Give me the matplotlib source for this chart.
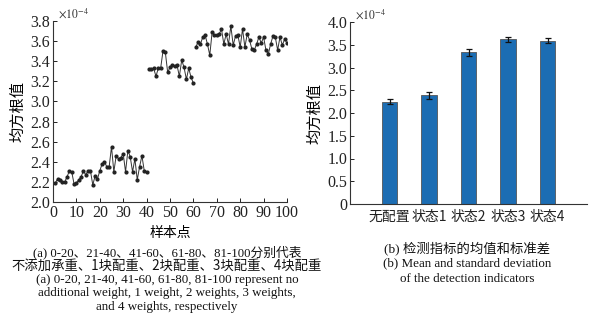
import matplotlib
matplotlib.use("Agg")
import matplotlib.pyplot as plt
import numpy as np

plt.rcParams['font.family'] = ['Liberation Serif', 'Noto Sans CJK SC']
plt.rcParams['mathtext.fontset'] = 'stix'

# ---- data (a) ----
seg1_x = list(range(1, 41))
seg1_y = [2.19, 2.23, 2.22, 2.20, 2.20, 2.25, 2.31, 2.30, 2.18, 2.19,
          2.22, 2.25, 2.31, 2.27, 2.31, 2.31, 2.17, 2.26, 2.23, 2.31,
          2.38, 2.40, 2.35, 2.35, 2.55, 2.30, 2.46, 2.43, 2.44, 2.48,
          2.30, 2.51, 2.45, 2.30, 2.43, 2.22, 2.35, 2.46, 2.31, 2.30]
seg2_x = list(range(41, 61))
seg2_y = [3.32, 3.32, 3.33, 3.25, 3.33, 3.33, 3.50, 3.49, 3.29, 3.34,
          3.36, 3.35, 3.36, 3.25, 3.41, 3.34, 3.22, 3.33, 3.24, 3.18]
seg3_x = list(range(61, 101))
seg3_y = [3.54, 3.59, 3.57, 3.64, 3.66, 3.57, 3.46, 3.69, 3.66, 3.66,
          3.67, 3.72, 3.57, 3.67, 3.57, 3.75, 3.56, 3.65, 3.66, 3.54,
          3.72, 3.54, 3.67, 3.61, 3.52, 3.51, 3.57, 3.64, 3.58, 3.64,
          3.51, 3.47, 3.57, 3.65, 3.64, 3.51, 3.64, 3.56, 3.62, 3.58]

# ---- data (b) ----
categories = ['无配置', '状态1', '状态2', '状态3', '状态4']
means = [2.25, 2.39, 3.33, 3.62, 3.59]
stds = [0.05, 0.08, 0.08, 0.06, 0.06]
bar_yticks = [0, 0.5, 1.0, 1.5, 2.0, 2.5, 3.0, 3.5, 4.0]
bar_yticklabels = ['0', '0.5', '1.0', '1.5', '2.0', '2.5', '3.0', '3.5', '4.0']

W, H = 599, 326
fig = plt.figure(figsize=(W/100, H/100), dpi=100)

cjk = ['Noto Sans CJK SC', 'Liberation Serif']
serif = ['Liberation Serif', 'Noto Sans CJK SC']

# ---- panel (a) ----
ax1 = fig.add_axes([53/W, 1-202/H, (287-53)/W, (202-21)/H])
for xs, ys in [(seg1_x, seg1_y), (seg2_x, seg2_y), (seg3_x, seg3_y)]:
    ax1.plot(xs, ys, color='#333333', lw=0.7, marker='o', ms=2.0,
             markerfacecolor='#222222', markeredgecolor='#222222')
ax1.set_xlim(0, 100)
ax1.set_ylim(2.0, 3.8)
ax1.set_xticks(np.arange(0, 101, 10))
ax1.set_yticks(np.arange(2.0, 3.81, 0.2))
ax1.set_yticklabels([f'{v:.1f}' for v in np.arange(2.0, 3.81, 0.2)])
for s in ['top', 'right']:
    ax1.spines[s].set_visible(False)
for s in ['left', 'bottom']:
    ax1.spines[s].set_linewidth(0.8)
    ax1.spines[s].set_color('#333333')
ax1.tick_params(direction='in', length=3, width=0.7, labelsize=11.5, pad=2,
                colors='#222222')
ax1.set_ylabel('均方根值', family=cjk, fontsize=11, labelpad=3)
ax1.set_xlabel('样本点', family=cjk, fontsize=10, labelpad=4)
ax1.text(0.02, 1.0, r'$\times10^{-4}$', transform=ax1.transAxes,
         fontsize=8.5, va='bottom', ha='left', color='#333333')

# ---- panel (b) ----
ax2 = fig.add_axes([350/W, 1-204/H, (587-350)/W, (204-22)/H])
pos = np.arange(1, len(categories) + 1)
ax2.bar(pos, means, width=0.4, color='#1c6db3', edgecolor='#555555', lw=0.6,
        yerr=stds, capsize=2.5, error_kw=dict(ecolor='#111111', elinewidth=0.9,
                                             capthick=0.9))
ax2.set_xlim(0, 6)
ax2.set_ylim(0, 4.0)
ax2.set_xticks(pos)
ax2.set_xticklabels(categories, family=cjk, fontsize=10)
ax2.set_yticks(bar_yticks)
ax2.set_yticklabels(bar_yticklabels)
for s in ['top', 'right']:
    ax2.spines[s].set_visible(False)
for s in ['left', 'bottom']:
    ax2.spines[s].set_linewidth(0.8)
    ax2.spines[s].set_color('#333333')
ax2.tick_params(axis='y', direction='in', length=3, width=0.7, labelsize=11.5,
                pad=2, colors='#222222')
ax2.tick_params(axis='x', length=0, pad=4, colors='#222222')
ax2.set_ylabel('均方根值', family=cjk, fontsize=11, labelpad=3)
ax2.text(0.02, 1.0, r'$\times10^{-4}$', transform=ax2.transAxes,
         fontsize=8.5, va='bottom', ha='left', color='#333333')

# ---- captions ----
cap_a = [
    ('(a) 0-20、21-40、41-60、61-80、81-100分别代表', serif, 9.2, 252),
    ('不添加承重、1块配重、2块配重、3块配重、4块配重', cjk, 9.6, 266),
    ('(a) 0-20, 21-40, 41-60, 61-80, 81-100 represent no', serif, 9.4, 280),
    ('additional weight, 1 weight, 2 weights, 3 weights,', serif, 9.4, 293),
    ('and 4 weights, respectively', serif, 9.4, 307),
]
for t, fam, fs, y in cap_a:
    fig.text(167/W, 1-y/H, t, family=fam, fontsize=fs, ha='center',
             va='center', color='#111111')

cap_b = [
    ('(b) 检测指标的均值和标准差', serif, 9.6, 248),
    ('(b) Mean and standard deviation', serif, 9.4, 263),
    ('of the detection indicators', serif, 9.4, 279),
]
for t, fam, fs, y in cap_b:
    fig.text(467/W, 1-y/H, t, family=fam, fontsize=fs, ha='center',
             va='center', color='#111111')

fig.savefig('out.png', dpi=100)
